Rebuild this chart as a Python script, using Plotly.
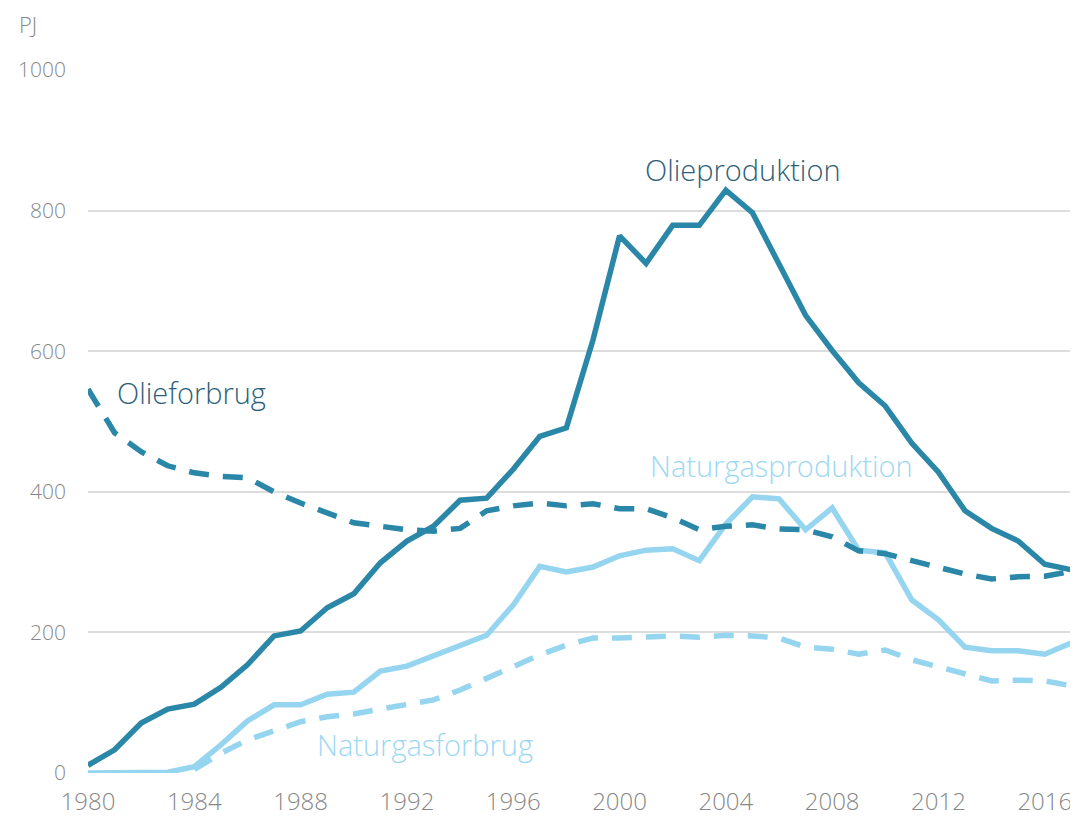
import plotly.graph_objects as go

years = list(range(1980, 2018))

olieproduktion = [11, 33, 71, 91, 98, 122, 154, 195, 202, 235, 255, 299, 330, 351, 388, 391,
                  432, 479, 491, 616, 764, 725, 779, 779, 829, 797, 724, 651, 601, 555, 522, 469,
                  428, 373, 348, 330, 297, 289]
olieforbrug = [546, 484, 457, 437, 427, 422, 420, 400, 384, 371, 356, 351, 346, 344, 348, 373,
               380, 384, 380, 383, 376, 376, 363, 346, 351, 353, 347, 346, 336, 316, 312, 302,
               292, 283, 276, 279, 280, 287]
naturgasproduktion = [0, 0, 0, 1, 9, 40, 74, 97, 97, 112, 115, 145, 152, 166, 181, 196,
                      239, 294, 286, 293, 309, 317, 319, 302, 354, 393, 390, 346, 377, 317, 313, 246,
                      218, 179, 174, 174, 169, 185]
naturgasforbrug = [None, None, None, None, 5, 28, 47, 61, 73, 80, 84, 91, 97, 104, 118, 135,
                   151, 168, 182, 192, 192, 193, 195, 193, 196, 195, 192, 179, 176, 169, 175, 161,
                   151, 142, 131, 132, 131, 124]

x_ticks = list(range(1980, 2017, 4))
y_ticks = [0, 200, 400, 600, 800, 1000]

DARK = "#2a87a8"
LIGHT = "#95d5f0"
DARK_TXT = "#2d5f78"
LIGHT_TXT = "#9dd8f2"
FONT = "Open Sans"

fig = go.Figure()
fig.add_trace(go.Scatter(x=years, y=naturgasforbrug, mode="lines",
                         line=dict(color=LIGHT, width=5.5, dash="20px,14px")))
fig.add_trace(go.Scatter(x=years, y=naturgasproduktion, mode="lines",
                         line=dict(color=LIGHT, width=5.5)))
fig.add_trace(go.Scatter(x=years, y=olieforbrug, mode="lines",
                         line=dict(color=DARK, width=5.5, dash="20px,14px")))
fig.add_trace(go.Scatter(x=years, y=olieproduktion, mode="lines",
                         line=dict(color=DARK, width=5.5)))

labels = [
    ("Olieproduktion", 2004.64, 858, DARK_TXT),
    ("Olieforbrug", 1983.91, 541, DARK_TXT),
    ("Naturgasproduktion", 2006.1, 437, LIGHT_TXT),
    ("Naturgasforbrug", 1992.68, 40, LIGHT_TXT),
]
for text, x, y, c in labels:
    fig.add_annotation(x=x, y=y, text=text, showarrow=False,
                       font=dict(family=FONT, size=29, color=c, weight=300),
                       xanchor="center", yanchor="middle")

fig.add_annotation(xref="paper", yref="paper", x=-0.072, y=1.066, text="PJ",
                   showarrow=False, xanchor="left", yanchor="middle",
                   font=dict(family=FONT, size=22, color="#888888", weight=300))

fig.update_layout(
    width=1078, height=822,
    margin=dict(l=80, r=12, t=62, b=57),
    plot_bgcolor="white", paper_bgcolor="white",
    showlegend=False,
    font=dict(family=FONT, color="#888888"),
)
fig.update_xaxes(range=[1980, 2017.1], tickvals=x_ticks, ticktext=[str(v) for v in x_ticks],
                 showgrid=False, zeroline=False, showline=False, automargin=False,
                 tickfont=dict(family=FONT, size=24, color="#888888", weight=300),
                 ticks="", ticklabelstandoff=12)
fig.update_yaxes(range=[0, 1000], tickvals=y_ticks, ticktext=[str(v) for v in y_ticks],
                 showgrid=True, gridcolor="#dddddd", gridwidth=2, zeroline=False,
                 showline=False, ticks="", automargin=False,
                 tickfont=dict(family=FONT, size=21, color="#888888", weight=300),
                 ticklabelstandoff=21)

fig.write_html("out.html")
